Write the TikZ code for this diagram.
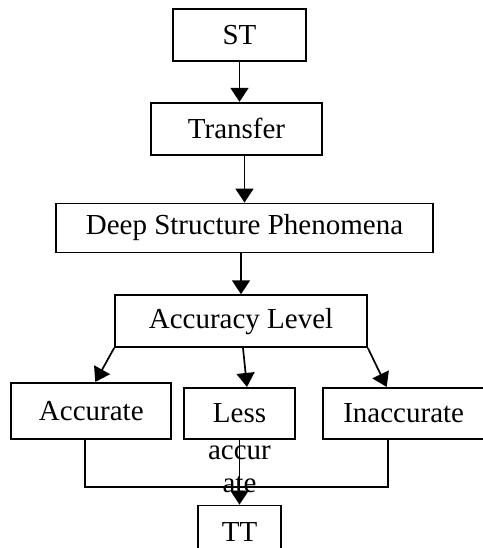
\documentclass[tikz,border=0pt]{standalone}
\usepackage{fontspec}
\setmainfont{Liberation Serif}
\usetikzlibrary{arrows.meta, positioning}

\begin{document}
\begin{tikzpicture}[
        > = {Triangle[length=7pt, width=9pt]}, % arrow head style
        x = 1pt, y = 1pt,
        line width = 0.85pt, % line style
        node distance = 20pt % distance between boxes
    ]

    \tikzstyle{block}=[
        draw = black,
        line width = 0.85pt,
        inner sep = 0pt,
        minimum height = 26pt,
        font = \fontsize{14.5}{16.5}\selectfont
    ]

    \useasboundingbox (0,0) rectangle (241.5,-274);

    \node[block, minimum width=66.5pt] (st) at (119.75,-17.5) {ST};
    \node[block, minimum width=85.5pt] (transfer) [below=20pt of st, xshift=-1.5pt] {Transfer};
    \node[block, minimum width=188.5pt, minimum height=24.5pt] (deep) [below=23.5pt of transfer, xshift=4pt] {Deep Structure Phenomena};
    \node[block, minimum width=126pt] (level) [below=20.5pt of deep, xshift=-1.75pt] {Accuracy Level};
    \node[block, minimum width=55.5pt, minimum height=25.5pt] (less) [below=19.5pt of level, xshift=-0.75pt] {Less};
    \node[block, minimum width=80pt, minimum height=28pt] (accurate) [left=5.5pt of less, yshift=1.25pt] {Accurate};
    \node[block, minimum width=81pt, minimum height=25.5pt] (inaccurate) [right=13pt of less] {Inaccurate};
    \node[block, minimum width=41.5pt] (tt) [below=32.5pt of less] {TT};

    % the rest of the middle label runs out of its box
    \node[font=\fontsize{14.5}{16.5}\selectfont, align=center, inner sep=0pt, anchor=north] (lessrest) [below=2.6pt of less] {accur\\ate};

    \draw[->] (st.south) -- (st.south |- transfer.north);
    \draw[->] (transfer.south -| deep.north) -- (deep.north);
    \draw[->] (deep.south -| level.north) -- (level.north);
    \draw[->] (level.south west) -- ([xshift=2pt]accurate.north);
    \draw[->] ([xshift=1pt]level.south) -- ([xshift=3.75pt]less.north);
    \draw[->] (level.south east) -- ([xshift=-8.5pt]inaccurate.north);

    \draw ([xshift=-3pt]accurate.south) -- ++(0,-23.5) -| ([xshift=-8pt]inaccurate.south);
    \draw[->] (less.south) -- (tt.north);
\end{tikzpicture}
\end{document}
